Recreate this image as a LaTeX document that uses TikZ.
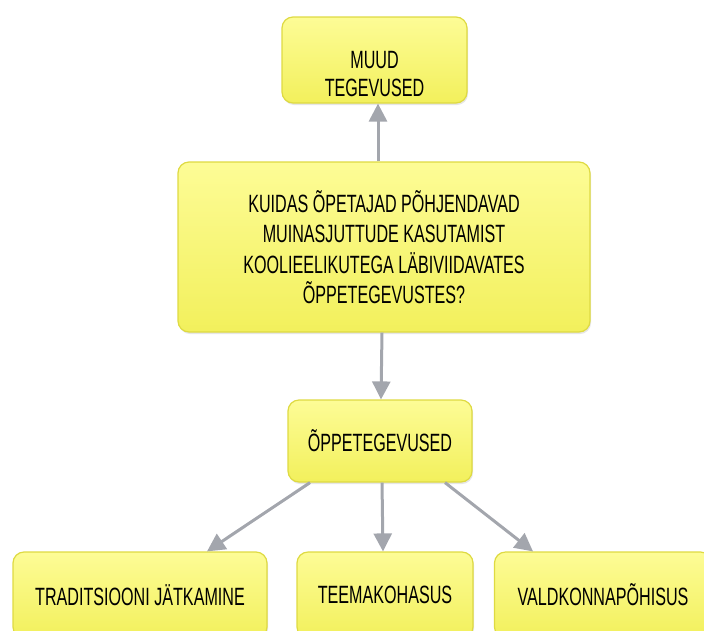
\documentclass[tikz,border=0pt]{standalone}
\usepackage{fontspec}
\setmainfont{Liberation Sans}[FakeStretch=0.645]
\usetikzlibrary{arrows.meta,shadows}

\definecolor{boxtop}{RGB}{253,252,150}
\definecolor{boxbot}{RGB}{242,240,92}
\definecolor{boxline}{RGB}{222,218,66}
\definecolor{arrgray}{RGB}{163,166,173}

\tikzset{
  box/.style={draw=boxline, line width=1.2pt, rounded corners=11pt,
    top color=boxtop, bottom color=boxbot, align=center,
    drop shadow={shadow xshift=1pt, shadow yshift=-2pt, opacity=0.2},
    font=\fontsize{25}{28}\selectfont},
  arr/.style={draw=arrgray, line width=3pt, -{Triangle[length=18pt,width=18pt]}}
}

\begin{document}
\begin{tikzpicture}[x=1pt,y=-1pt]

\useasboundingbox (0,0) rectangle (704,630);
\clip (0,0) rectangle (704,630);

\node[box, minimum width=185pt, minimum height=86pt,
  label={[align=center, yshift=-14.5pt, font=\fontsize{25}{28}\selectfont]center:MUUD\\TEGEVUSED}]
  (muud) at (374.5,60) {};
\node[box, minimum width=412pt, minimum height=170pt,
  font=\fontsize{25}{30.5}\selectfont] (kusimus) at (384,247)
  {KUIDAS ÕPETAJAD PÕHJENDAVAD\\MUINASJUTTUDE KASUTAMIST\\KOOLIEELIKUTEGA LÄBIVIIDAVATES\\ÕPPETEGEVUSTES?};
\node[box, minimum width=184pt, minimum height=82pt] (oppe) at (380,441) {ÕPPETEGEVUSED};

\node[box, minimum width=254pt, minimum height=86pt] (trad) at (140,595) {TRADITSIOONI JÄTKAMINE};
\node[box, minimum width=176pt, minimum height=86pt] (teema) at (385,595) {TEEMAKOHASUS};
\node[box, minimum width=217pt, minimum height=86pt] (vald) at (603,595) {VALDKONNAPÕHISUS};

\draw[arr] ([xshift=-6pt]kusimus.north) -- ([xshift=3.5pt]muud.south);
\draw[arr] ([xshift=-2pt]kusimus.south) -- ([xshift=1pt]oppe.north);

\draw[arr] ([xshift=-70pt]oppe.south) -- ([xshift=67pt]trad.north);
\draw[arr] ([xshift=2pt]oppe.south) -- ([xshift=-2pt]teema.north);
\draw[arr] ([xshift=65pt]oppe.south) -- ([xshift=-70pt]vald.north);

\end{tikzpicture}
\end{document}
